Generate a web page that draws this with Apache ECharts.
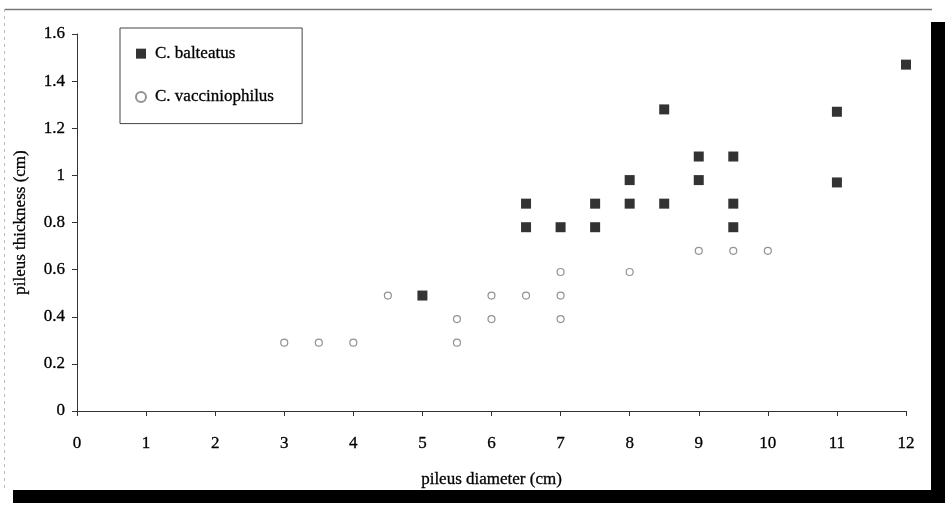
<!DOCTYPE html>
<html><head><meta charset="utf-8">
<script src="https://cdn.jsdelivr.net/npm/echarts@6/dist/echarts.min.js"></script>
<style>html,body{margin:0;padding:0;background:#fff}#c{width:945px;height:510px}</style>
</head><body><div id="c"></div>
<script>
const xTicks = [0,1,2,3,4,5,6,7,8,9,10,11,12];
const yTicks = [0,0.2,0.4,0.6,0.8,1,1.2,1.4,1.6];
const balteatusX = [5, 6.5, 6.5, 7, 7.5, 7.5, 8, 8, 8.5, 8.5, 9, 9, 9.5, 9.5, 9.5, 11, 11, 12];
const balteatusY = [0.49, 0.88, 0.78, 0.78, 0.88, 0.78, 0.98, 0.88, 1.28, 0.88, 1.08, 0.98, 1.08, 0.88, 0.78, 1.27, 0.97, 1.47];
const vaccX = [3, 3.5, 4, 4.5, 5.5, 5.5, 6, 6, 6.5, 7, 7, 7, 8, 9, 9.5, 10];
const vaccY = [0.29, 0.29, 0.29, 0.49, 0.39, 0.29, 0.49, 0.39, 0.49, 0.59, 0.49, 0.39, 0.59, 0.68, 0.68, 0.68];

const font = 'Liberation Serif';
const txt = {fontFamily:font, fontSize:17, color:'#000', fontWeight:500, textBorderColor:'#000', textBorderWidth:0.3};
const chart = echarts.init(document.getElementById('c'));
chart.setOption({
  animation: false,
  backgroundColor: '#fff',
  graphic: [
    {type:'line', shape:{x1:5,y1:9.5,x2:932,y2:9.5}, style:{stroke:'#777', lineWidth:1.5}},
    {type:'line', shape:{x1:4.5,y1:9,x2:4.5,y2:488}, style:{stroke:'#bbb', lineWidth:1, lineDash:[3,4]}},
    {type:'rect', shape:{x:931,y:22,width:14,height:478}, style:{fill:'#000'}},
    {type:'rect', shape:{x:13,y:490,width:932,height:13}, style:{fill:'#000'}}
  ],
  grid: {left:77, right:39, top:34, bottom:99},
  legend: {
    left:120, top:28, orient:'vertical',
    padding:[17, 28, 18, 15],
    itemGap: 26, itemWidth: 10, itemHeight: 10,
    borderColor:'#444', borderWidth:1,
    textStyle:Object.assign({}, txt, {padding:[0,0,0,4]}),
    data:['C. balteatus','C. vacciniophilus']
  },
  xAxis: {
    type:'value', min:0, max:12, interval:1,
    splitLine:{show:false},
    axisLine:{lineStyle:{color:'#333', width:1}},
    axisTick:{show:true, length:5, lineStyle:{color:'#333'}},
    axisLabel:Object.assign({margin:24}, txt),
    name:'pileus diameter (cm)', nameLocation:'middle', nameGap:60,
    nameTextStyle:txt
  },
  yAxis: {
    type:'value', min:0, max:1.6, interval:0.2,
    splitLine:{show:false},
    axisLine:{show:true, lineStyle:{color:'#333', width:1}},
    axisTick:{show:true, length:5, lineStyle:{color:'#333'}},
    axisLabel:Object.assign({margin:12, formatter: v => String(+v.toFixed(1))}, txt),
    name:'pileus thickness (cm)', nameLocation:'middle', nameGap:48, nameRotate:90,
    nameTextStyle:txt
  },
  series: [
    {name:'C. balteatus', type:'scatter', symbol:'rect', symbolSize:10,
     itemStyle:{color:'#000'},
     data: balteatusX.map((x,i)=>[x, balteatusY[i]])},
    {name:'C. vacciniophilus', type:'scatter', symbol:'circle', symbolSize:7,
     itemStyle:{color:'#fff', borderColor:'#777', borderWidth:1.2},
     data: vaccX.map((x,i)=>[x, vaccY[i]])}
  ]
});
</script></body></html>
